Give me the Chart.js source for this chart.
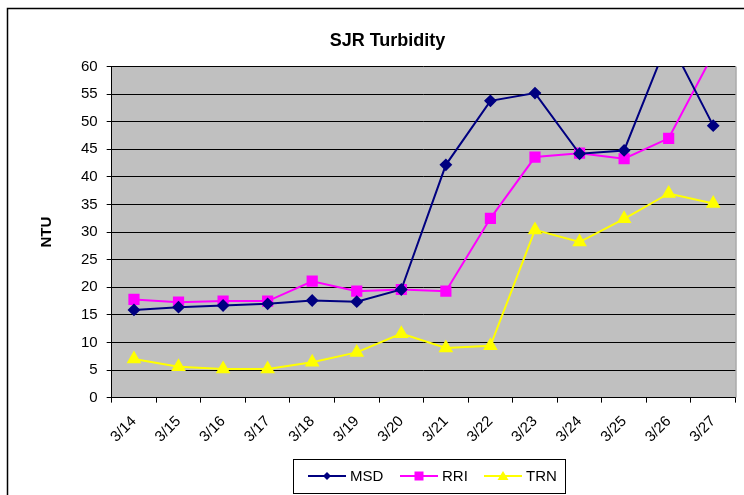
<!DOCTYPE html>
<html>
<head>
<meta charset="UTF-8">
<script src="https://cdn.jsdelivr.net/npm/chart.js"></script>
<style>
  body { margin: 0; background: #fff; }
  #wrap { width: 744px; height: 495px; }
</style>
</head>
<body>
<div id="wrap"><canvas id="myChart" width="744" height="495"></canvas></div>
<script>
    var dias = ['3/14', '3/15', '3/16', '3/17', '3/18', '3/19', '3/20', '3/21', '3/22', '3/23', '3/24', '3/25', '3/26', '3/27'];
    var msd = [15.9, 16.4, 16.7, 17.0, 17.6, 17.4, 19.6, 42.2, 53.8, 55.2, 44.2, 44.8, 65.0, 49.3];
    var rri = [17.8, 17.3, 17.5, 17.5, 21.1, 19.3, 19.6, 19.3, 32.5, 43.6, 44.3, 43.3, 47.0, 62.3];
    var trn = [7.0, 5.6, 5.2, 5.2, 6.4, 8.2, 11.6, 9.0, 9.4, 30.4, 28.2, 32.4, 37.0, 35.2];

    var fonte = "'Liberation Sans', Arial, sans-serif";

    function marcador(ctx, estilo, x, y) {
        ctx.beginPath();
        if (estilo === 'rectRot') {
            ctx.moveTo(x, y - 4); ctx.lineTo(x + 4, y); ctx.lineTo(x, y + 4); ctx.lineTo(x - 4, y);
        } else if (estilo === 'rect') {
            ctx.rect(x - 4.5, y - 4.5, 9, 9);
        } else {
            ctx.moveTo(x, y - 5); ctx.lineTo(x + 5.5, y + 4); ctx.lineTo(x - 5.5, y + 4);
        }
        ctx.closePath();
        ctx.fill();
    }

    // legenda desenhada a mao (linha + marcador), caixa com borda
    var legendaX = [308, 400, 484];

    var fundo = {
        id: 'fundo',
        beforeDraw: function (chart) {
            var a = chart.chartArea;
            var ctx = chart.ctx;
            ctx.save();
            ctx.fillStyle = '#C0C0C0';
            ctx.fillRect(a.left, a.top, a.right - a.left, a.bottom - a.top);
            ctx.strokeStyle = '#000';
            ctx.lineWidth = 1.5;
            ctx.beginPath();
            ctx.moveTo(7.5, 496); ctx.lineTo(7.5, 8.5); ctx.lineTo(745, 8.5);
            ctx.stroke();
            ctx.restore();
        },
        afterDraw: function (chart) {
            var a = chart.chartArea;
            var ctx = chart.ctx;
            ctx.save();
            ctx.strokeStyle = '#808080';
            ctx.lineWidth = 1;
            ctx.beginPath();
            ctx.moveTo(a.right + 0.5, a.top); ctx.lineTo(a.right + 0.5, a.bottom);
            ctx.stroke();

            ctx.strokeStyle = '#000';
            ctx.strokeRect(293.5, 459.5, 272, 34);
            ctx.font = '15px ' + fonte;
            ctx.textBaseline = 'middle';
            chart.data.datasets.forEach(function (ds, i) {
                var x = legendaX[i], y = 476;
                ctx.strokeStyle = ds.borderColor;
                ctx.fillStyle = ds.borderColor;
                ctx.lineWidth = 2;
                ctx.beginPath();
                ctx.moveTo(x, y); ctx.lineTo(x + 38, y);
                ctx.stroke();
                marcador(ctx, ds.pointStyle, x + 19, y);
                ctx.fillStyle = '#000';
                ctx.fillText(ds.label, x + 42, y + 1);
            });
            ctx.restore();
        }
    };

    var data = {
        labels: dias,
        datasets: [{
            label: 'MSD',
            data: msd,
            borderColor: '#000080',
            backgroundColor: '#000080',
            borderWidth: 2,
            pointStyle: 'rectRot',
            pointRadius: 5,
            pointHoverRadius: 5
        }, {
            label: 'RRI',
            data: rri,
            borderColor: '#FF00FF',
            backgroundColor: '#FF00FF',
            borderWidth: 2,
            pointStyle: 'rect',
            pointRadius: 6.5,
            pointHoverRadius: 6.5
        }, {
            label: 'TRN',
            data: trn,
            borderColor: '#FFFF00',
            backgroundColor: '#FFFF00',
            borderWidth: 2,
            pointStyle: 'triangle',
            pointRadius: 6.5,
            pointHoverRadius: 6.5
        }]
    };

    Chart.defaults.color = '#000000';
    Chart.defaults.font.family = fonte;

    var config = {
        type: 'line',
        data: data,
        options: {
            responsive: false,
            animation: false,
            layout: { padding: { left: 38, right: 7, top: 30, bottom: 39 } },
            plugins: {
                title: {
                    display: true,
                    text: 'SJR Turbidity',
                    font: { size: 18, weight: 'bold' },
                    padding: { top: 0, bottom: 15 }
                },
                legend: { display: false },
                tooltip: { enabled: false }
            },
            scales: {
                x: {
                    offset: true,
                    grid: { offset: true, drawOnChartArea: false, color: '#000', tickLength: 5 },
                    border: { color: '#000' },
                    ticks: { minRotation: 45, maxRotation: 45, font: { size: 15 }, padding: 10 }
                },
                y: {
                    min: 0,
                    max: 60,
                    ticks: { stepSize: 5, font: { size: 15 }, padding: 9 },
                    grid: { color: '#000', tickLength: 5 },
                    border: { color: '#000' },
                    title: {
                        display: true,
                        text: 'NTU',
                        font: { size: 15, weight: 'bold' },
                        padding: { top: 0, bottom: 16 }
                    }
                }
            }
        },
        plugins: [fundo]
    };

    var myChart = new Chart(document.getElementById('myChart'), config);
</script>
</body>
</html>
